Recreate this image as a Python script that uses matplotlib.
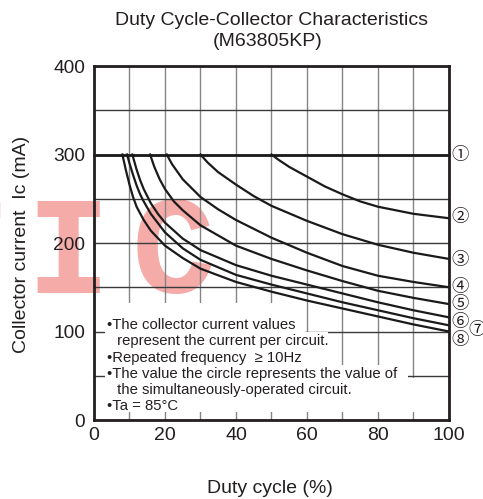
import matplotlib
matplotlib.use("Agg")
import matplotlib.pyplot as plt
from matplotlib.patches import Rectangle

plt.rcParams['font.family'] = ['Liberation Sans', 'DejaVu Sans']

# duty cycle (%) / collector current (mA)
duty_1 = [0, 100]
ic_1 = [300, 300]
duty_2 = [50, 52, 55, 60, 65, 70, 75, 80, 90, 100]
ic_2 = [300, 294, 286, 275, 264, 255, 247, 241, 233, 228]
duty_3 = [30, 32, 35, 40, 45, 50, 60, 70, 80, 90, 100]
ic_3 = [300, 291, 280, 266, 253, 242, 225, 210, 198, 189, 182]
duty_4 = [20.5, 22, 25, 30, 35, 40, 50, 60, 70, 80, 90, 100]
ic_4 = [300, 289, 272, 252, 238, 226, 206, 189, 174, 163, 156, 150]
duty_5 = [15.8, 17, 18.5, 20, 22.5, 25, 30, 40, 50, 60, 70, 80, 90, 100]
ic_5 = [300, 286, 272, 261, 247, 237, 220, 197, 182, 169, 157, 146, 138, 131]
duty_6 = [10.8, 12, 13, 14, 16, 18, 20, 25, 30, 40, 50, 60, 70, 80, 90, 100]
ic_6 = [300, 283, 271, 261, 245, 233, 223, 205, 192, 175, 163, 153, 143, 133, 124, 116]
duty_7 = [9.3, 10, 11, 12, 13, 14, 16, 20, 25, 30, 40, 50, 60, 70, 80, 90, 100]
ic_7 = [300, 290, 277, 265, 255, 247, 233, 212, 194, 181, 164, 153, 143, 133, 124, 115, 107]
duty_8 = [8, 9, 10, 11, 12, 14, 16, 20, 25, 30, 40, 50, 60, 70, 80, 90, 100]
ic_8 = [300, 282, 266, 252, 241, 226, 214, 197, 183, 171, 156, 145, 135, 126, 117, 108, 100]

curves = [(duty_1, ic_1), (duty_2, ic_2), (duty_3, ic_3), (duty_4, ic_4),
          (duty_5, ic_5), (duty_6, ic_6), (duty_7, ic_7), (duty_8, ic_8)]
labels = ['①', '②', '③', '④', '⑤', '⑥', '⑦', '⑧']

notes = ['•The collector current values',
         ' represent the current per circuit.',
         '•Repeated frequency  ≥ 10Hz',
         '•The value the circle represents the value of',
         ' the simultaneously-operated circuit.',
         '•Ta = 85°C']

fig = plt.figure(figsize=(4.83, 4.99), dpi=100)
ax = fig.add_axes([0.1946, 0.1583, 0.7350, 0.7094])
ax.patch.set_alpha(0)

# watermark, one letter at a time (wider spacing than the mono font)
for ch, fx in zip('TIC', [-0.0766, 0.1408, 0.358]):
    fig.text(fx, 0.4128, ch, family='Liberation Mono', weight='bold',
             fontsize=100, color='#f5aca8', ha='center', va='baseline',
             zorder=-1)

ax.set_xlim(0, 100)
ax.set_ylim(0, 400)
ax.set_xticks(range(0, 101, 20))
ax.set_xticks(range(10, 100, 20), minor=True)
ax.set_yticks(range(0, 401, 100))
ax.set_yticks(range(50, 400, 100), minor=True)
ax.set_axisbelow(True)
ax.xaxis.grid(True, which='both', color='#858585', lw=1.0)
ax.yaxis.grid(True, which='both', color='#3a3a3a', lw=1.0)
ax.tick_params(which='both', length=0)
ax.tick_params(axis='y', labelsize=13.8, pad=6.5, colors='#231f20')
ax.tick_params(axis='x', labelsize=14, pad=5, colors='#231f20')
for s in ax.spines.values():
    s.set_linewidth(2)
    s.set_color('#231f20')

# white area behind the notes
for x0, y0, x1, y1 in [(3.1, 98, 59.5, 132), (3.1, 61, 66, 99.5),
                       (3.1, 48, 88.5, 62), (3.1, 9, 99.6, 48)]:
    ax.add_patch(Rectangle((x0, y0), x1 - x0, y1 - y0, facecolor='white',
                           edgecolor='none', zorder=1))

for i, (x, y) in enumerate(curves):
    ax.plot(x, y, color='#1a1a1a', lw=2.0 if i == 0 else 1.6, zorder=2,
            solid_joinstyle='round', clip_on=False)

label_dx = [3.1, 3.1, 3.1, 3.1, 3.1, 3.1, 7.9, 3.1]
label_dy = [0, 1.5, -1, 0, 0, -5.5, -5, -9.5]
for i, (x, y) in enumerate(curves):
    ax.text(x[-1] + label_dx[i], y[-1] + label_dy[i], labels[i],
            family=['Noto Sans CJK JP', 'DejaVu Sans'], fontsize=12.5,
            color='#231f20', ha='center', va='center', clip_on=False)

for k, line in enumerate(notes):
    x0 = 3.7 if line.startswith('•') else 5.35
    ax.text(x0, 102.5 - 18.2 * k, line, fontsize=10.7, color='#231f20',
            ha='left', va='baseline', zorder=3)

fig.text(0.563, 0.959, 'Duty Cycle-Collector Characteristics', fontsize=14,
         color='#231f20', ha='center', va='center')
fig.text(0.555, 0.917, '(M63805KP)', fontsize=14, color='#231f20',
         ha='center', va='center')
fig.text(0.0445, 0.51, 'Collector current  Ic (mA)', fontsize=14,
         color='#231f20', rotation=90, ha='center', va='center')
fig.text(0.559, 0.022, 'Duty cycle (%)', fontsize=14, color='#231f20',
         ha='center', va='center')

fig.savefig('out.png', dpi=100)
